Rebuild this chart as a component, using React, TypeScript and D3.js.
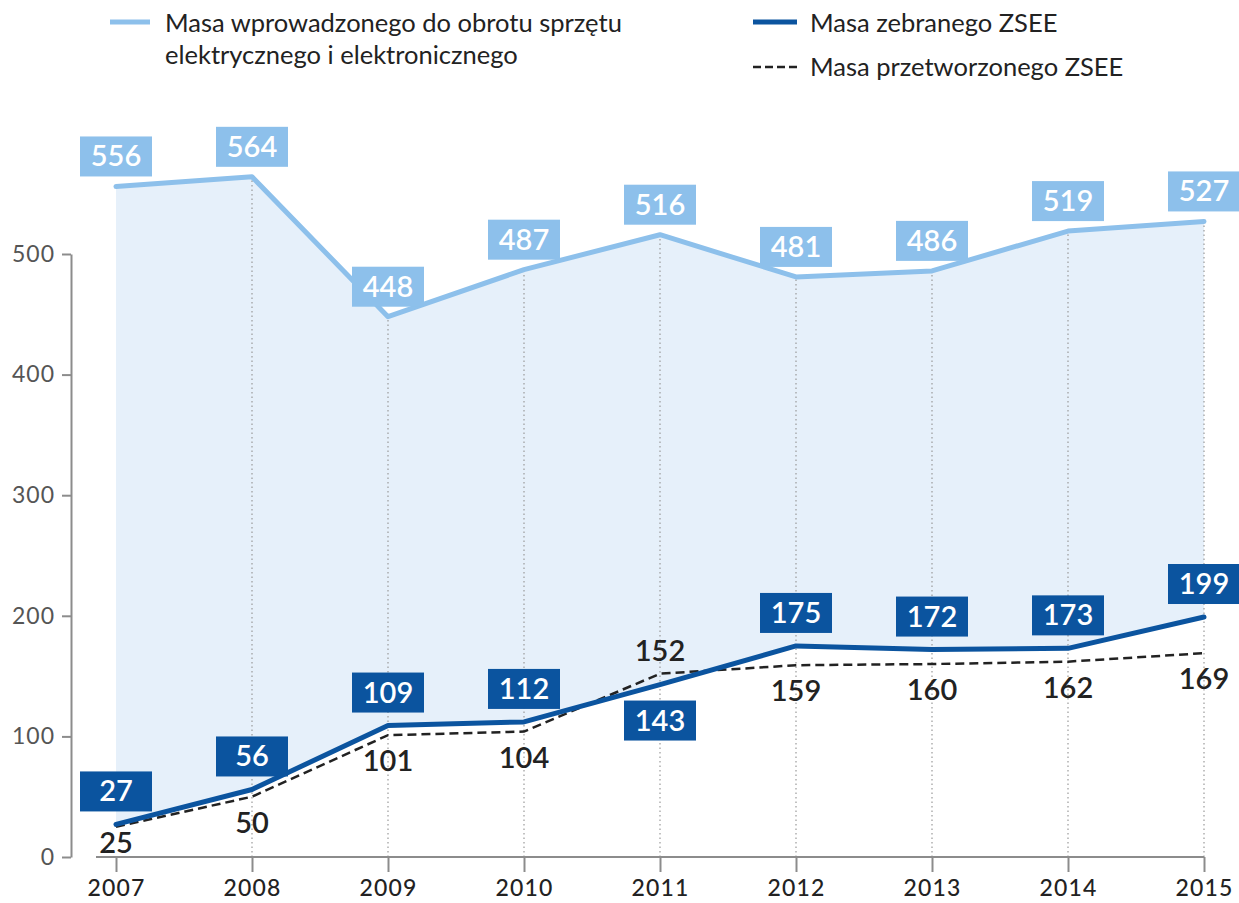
import { useEffect, useRef } from "react";
import * as d3 from "d3";

const years = ["2007", "2008", "2009", "2010", "2011", "2012", "2013", "2014", "2015"];
const introduced = [556, 564, 448, 487, 516, 481, 486, 519, 527];
const collected = [27, 56, 109, 112, 143, 175, 172, 173, 199];
const processed = [25, 50, 101, 104, 152, 159, 160, 162, 169];
const yTicks = [0, 100, 200, 300, 400, 500];

const LIGHT = "#8dc0eb";
const DARK = "#0b549f";
const FILL = "#e6f0fa";
const INK = "#222222";
const FONT = "Lato, 'Noto Sans', sans-serif";

export default function App() {
  const svgRef = useRef<SVGSVGElement>(null);

  useEffect(() => {
    if (!svgRef.current) return;
    const width = 1239;
    const height = 903;

    const svg = d3.select(svgRef.current).attr("width", width).attr("height", height);
    svg.selectAll("*").remove();
    svg.style("font-family", FONT);

    const x = d3.scalePoint<string>().domain(years).range([116, 1204]);
    const y = d3.scaleLinear().domain([0, 500]).range([857, 254]);
    const idx = d3.range(years.length);

    // fill between introduced and collected
    const band = d3
      .area<number>()
      .x((i) => x(years[i])!)
      .y0((i) => y(collected[i]))
      .y1((i) => y(introduced[i]));
    svg.append("path").datum(idx).attr("fill", FILL).attr("d", band);

    // dotted year guides
    idx.slice(1).forEach((i) => {
      svg
        .append("line")
        .attr("x1", x(years[i])!)
        .attr("x2", x(years[i])!)
        .attr("y1", y(0))
        .attr("y2", y(introduced[i]))
        .attr("stroke", "#9a9a9a")
        .attr("stroke-width", 1.2)
        .attr("stroke-dasharray", "1.5,3");
    });

    // y axis
    const yAxis = svg
      .append("g")
      .attr("transform", "translate(71,0)")
      .call(d3.axisLeft(y).tickValues(yTicks).tickSize(9).tickSizeOuter(0).tickPadding(7));
    yAxis.select(".domain").attr("stroke", "#8c8c8c").attr("stroke-width", 2);
    yAxis.selectAll(".tick line").attr("stroke", "#8c8c8c").attr("stroke-width", 2);
    yAxis
      .selectAll(".tick text")
      .attr("fill", "#555")
      .attr("font-size", 23)
      .attr("letter-spacing", 1)
      .attr("font-family", FONT);

    // x axis
    const xAxis = svg
      .append("g")
      .attr("transform", `translate(0,${y(0)})`)
      .call(d3.axisBottom(x).tickSize(15).tickSizeOuter(0).tickPadding(8));
    xAxis.select(".domain").remove();
    xAxis
      .append("line")
      .attr("x1", x(years[0])! - 20)
      .attr("x2", x(years[years.length - 1])!)
      .attr("stroke", "#8c8c8c")
      .attr("stroke-width", 2);
    xAxis.selectAll(".tick line").attr("stroke", "#8c8c8c").attr("stroke-width", 2);
    xAxis
      .selectAll(".tick text")
      .attr("fill", INK)
      .attr("font-size", 23)
      .attr("letter-spacing", 1.2)
      .attr("font-weight", 500)
      .attr("font-family", FONT);

    const line = (vals: number[]) =>
      d3
        .line<number>()
        .x((i) => x(years[i])!)
        .y((i) => y(vals[i]))(idx);

    svg
      .append("path")
      .attr("d", line(introduced))
      .attr("fill", "none")
      .attr("stroke", LIGHT)
      .attr("stroke-width", 5)
      .attr("stroke-linecap", "round")
      .attr("stroke-linejoin", "round");
    svg
      .append("path")
      .attr("d", line(processed))
      .attr("fill", "none")
      .attr("stroke", INK)
      .attr("stroke-width", 2.5)
      .attr("stroke-dasharray", "9,5");
    svg
      .append("path")
      .attr("d", line(collected))
      .attr("fill", "none")
      .attr("stroke", DARK)
      .attr("stroke-width", 5)
      .attr("stroke-linecap", "round")
      .attr("stroke-linejoin", "round");

    const boxW = 72;
    const boxH = 40;
    const box = (cx: number, top: number, color: string, value: number) => {
      svg
        .append("rect")
        .attr("x", cx - boxW / 2)
        .attr("y", top)
        .attr("width", boxW)
        .attr("height", boxH)
        .attr("fill", color);
      svg
        .append("text")
        .attr("x", cx)
        .attr("y", top + boxH / 2 + 10)
        .attr("text-anchor", "middle")
        .attr("fill", "#fff")
        .attr("font-size", 29)
        .attr("font-weight", 600)
        .text(value);
    };

    idx.forEach((i) => {
      const cx = x(years[i])!;
      box(cx, y(introduced[i]) - 10 - boxH, LIGHT, introduced[i]);

      const above = collected[i] >= processed[i];
      box(cx, above ? y(collected[i]) - 13 - boxH : y(collected[i]) + 16, DARK, collected[i]);

      let ty = above ? y(processed[i]) + 36 : y(processed[i]) - 13;
      if (i === 0) ty = y(processed[i]) + 26;
      svg
        .append("text")
        .attr("x", cx)
        .attr("y", ty)
        .attr("text-anchor", "middle")
        .attr("fill", INK)
        .attr("font-size", 29)
        .attr("font-weight", 600)
        .text(processed[i]);
    });

    // legend
    const leg = svg.append("g").attr("font-size", 25.5).attr("fill", INK);
    leg.append("line").attr("x1", 110).attr("x2", 150).attr("y1", 22).attr("y2", 22)
      .attr("stroke", LIGHT).attr("stroke-width", 5);
    leg.append("text").attr("x", 165).attr("y", 32).text("Masa wprowadzonego do obrotu sprzętu");
    leg.append("text").attr("x", 165).attr("y", 64).text("elektrycznego i elektronicznego");
    leg.append("line").attr("x1", 753).attr("x2", 797).attr("y1", 22).attr("y2", 22)
      .attr("stroke", DARK).attr("stroke-width", 5);
    leg.append("text").attr("x", 810).attr("y", 32).text("Masa zebranego ZSEE");
    leg.append("line").attr("x1", 753).attr("x2", 797).attr("y1", 67).attr("y2", 67)
      .attr("stroke", INK).attr("stroke-width", 2.5).attr("stroke-dasharray", "8,4");
    leg.append("text").attr("x", 810).attr("y", 76).text("Masa przetworzonego ZSEE");
  }, []);

  return (
    <div style={{ position: "absolute", left: 0, top: 0, background: "#fff" }}>
      <svg ref={svgRef} style={{ display: "block" }} />
    </div>
  );
}
